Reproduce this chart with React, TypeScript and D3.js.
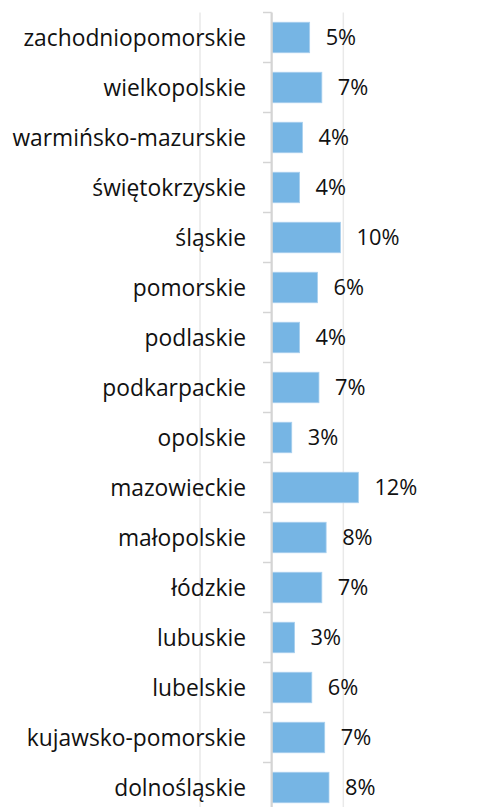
import React from "react";
import * as d3 from "d3";

const categories = [
  "zachodniopomorskie",
  "wielkopolskie",
  "warmińsko-mazurskie",
  "świętokrzyskie",
  "śląskie",
  "pomorskie",
  "podlaskie",
  "podkarpackie",
  "opolskie",
  "mazowieckie",
  "małopolskie",
  "łódzkie",
  "lubuskie",
  "lubelskie",
  "kujawsko-pomorskie",
  "dolnośląskie",
];
const values = [0.053, 0.07, 0.043, 0.039, 0.096, 0.064, 0.039, 0.066, 0.028, 0.121, 0.076, 0.07, 0.032, 0.056, 0.074, 0.08];
const gridTicks = [-0.1, 0.1];

const W = 477;
const H = 807;
const FONT = "'Open Sans', sans-serif";

export default function App() {
  const x = d3.scaleLinear().domain([-0.1, 0.2]).range([200, 415]);
  const y = d3
    .scaleBand<string>()
    .domain(categories)
    .range([12.5, 812.5])
    .paddingInner(0.39)
    .paddingOuter(0.195);
  const step = y.step();
  const x0 = x(0);
  const fmt = d3.format(".0%");
  const boundaries = d3.range(categories.length + 1).map((i) => 12.5 + i * step);

  return (
    <svg
      width={W}
      height={H}
      style={{ position: "absolute", left: 0, top: 0, background: "#fff" }}
    >
      {gridTicks.map((t) => (
        <line
          key={t}
          x1={x(t)}
          x2={x(t)}
          y1={12.5}
          y2={812.5}
          stroke="#e9e9e9"
          strokeWidth={1.5}
        />
      ))}
      {categories.map((c, i) => {
        const yy = y(c)!;
        return (
          <g key={c}>
            <rect
              x={x0}
              y={yy}
              width={x(values[i]) - x0}
              height={y.bandwidth()}
              fill="#76b5e4"
              stroke="#a9d0ee"
              strokeWidth={0.8}
            />
            <text
              x={x(values[i]) + 16}
              y={yy + y.bandwidth() / 2}
              dy="0.36em"
              fontFamily={FONT}
              fontSize={21.8}
              fill="#111"
            >
              {fmt(values[i])}
            </text>
            <text
              x={246}
              y={yy + y.bandwidth() / 2}
              dy="0.36em"
              textAnchor="end"
              fontFamily={FONT}
              fontSize={22.8}
              fill="#111"
            >
              {c}
            </text>
          </g>
        );
      })}
      {boundaries.map((b, i) => (
        <line key={i} x1={263} x2={x0} y1={b} y2={b} stroke="#d4d4d4" strokeWidth={1.5} />
      ))}
      <line x1={x0} x2={x0} y1={12.5} y2={812.5} stroke="#d4d4d4" strokeWidth={2.25} />
    </svg>
  );
}
